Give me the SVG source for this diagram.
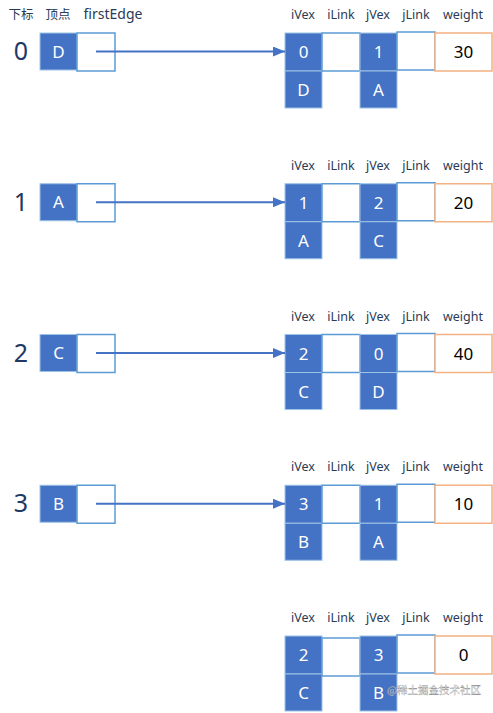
<svg xmlns="http://www.w3.org/2000/svg" width="493" height="713" viewBox="0 0 493 713">
<style>
.hd{font-family:"Noto Sans","Noto Sans CJK SC",sans-serif;font-size:12.5px;fill:#2b3a55;text-anchor:middle}
.idx{font-family:"Noto Sans",sans-serif;font-size:25px;fill:#1f3864;text-anchor:middle}
.b{fill:#4472c4;stroke:#9dc3e6;stroke-width:1}
.w{fill:#fff;stroke:#5b9bd5;stroke-width:1.5}
.o{fill:#fff;stroke:#f4b183;stroke-width:1.5}
.bt{font-family:"Noto Sans",sans-serif;font-size:17px;fill:#fff;text-anchor:middle}
.kt{font-family:"Noto Sans",sans-serif;font-size:17px;fill:#000;text-anchor:middle}
.ar{stroke:#4472c4;stroke-width:2;fill:none}
</style>
<defs>
<marker id="ah" markerWidth="12" markerHeight="10" refX="12" refY="5" orient="auto" markerUnits="userSpaceOnUse">
<path d="M0,0 L12,5 L0,10 Z" fill="#4472c4"/>
</marker>
</defs>
<rect width="493" height="713" fill="#fff"/>
<g id="headers-left">
<text class="hd" x="21" y="19">下标</text>
<text class="hd" x="58" y="19">顶点</text>
<text class="hd" x="113" y="19" style="font-size:14px">firstEdge</text>
</g>
<g id="vertex0" transform="translate(0,0)">
<text class="idx" x="21" y="60">0</text>
<rect class="b" x="40" y="33" width="37" height="37"/>
<text class="bt" x="58.5" y="57.5">D</text>
<rect class="w" x="77" y="33" width="38" height="38"/>
</g>
<g id="vertex1" transform="translate(0,150.75)">
<text class="idx" x="21" y="60">1</text>
<rect class="b" x="40" y="33" width="37" height="37"/>
<text class="bt" x="58.5" y="57.5">A</text>
<rect class="w" x="77" y="33" width="38" height="38"/>
</g>
<g id="vertex2" transform="translate(0,301.5)">
<text class="idx" x="21" y="60">2</text>
<rect class="b" x="40" y="33" width="37" height="37"/>
<text class="bt" x="58.5" y="57.5">C</text>
<rect class="w" x="77" y="33" width="38" height="38"/>
</g>
<g id="vertex3" transform="translate(0,452.25)">
<text class="idx" x="21" y="60">3</text>
<rect class="b" x="40" y="33" width="37" height="37"/>
<text class="bt" x="58.5" y="57.5">B</text>
<rect class="w" x="77" y="33" width="38" height="38"/>
</g>
<g id="edge0" transform="translate(0,0)">
<text class="hd" x="303" y="19">iVex</text><text class="hd" x="341" y="19">iLink</text><text class="hd" x="378" y="19">jVex</text><text class="hd" x="416" y="19">jLink</text><text class="hd" x="463" y="19">weight</text>
<rect class="b" x="285" y="33" width="37" height="38"/><rect class="b" x="285" y="71" width="37" height="37"/>
<rect class="w" x="322" y="33" width="38" height="38"/>
<rect class="b" x="360" y="33" width="37" height="38"/><rect class="b" x="360" y="71" width="37" height="37"/>
<rect class="w" x="397" y="32" width="38" height="38"/>
<rect class="o" x="435" y="33" width="57" height="38"/>
<text class="bt" x="303.5" y="58">0</text><text class="bt" x="303.5" y="96">D</text>
<text class="bt" x="378.5" y="58">1</text><text class="bt" x="378.5" y="96">A</text>
<text class="kt" x="463.5" y="58">30</text>
</g>
<g id="edge1" transform="translate(0,150.75)">
<text class="hd" x="303" y="19">iVex</text><text class="hd" x="341" y="19">iLink</text><text class="hd" x="378" y="19">jVex</text><text class="hd" x="416" y="19">jLink</text><text class="hd" x="463" y="19">weight</text>
<rect class="b" x="285" y="33" width="37" height="38"/><rect class="b" x="285" y="71" width="37" height="37"/>
<rect class="w" x="322" y="33" width="38" height="38"/>
<rect class="b" x="360" y="33" width="37" height="38"/><rect class="b" x="360" y="71" width="37" height="37"/>
<rect class="w" x="397" y="32" width="38" height="38"/>
<rect class="o" x="435" y="33" width="57" height="38"/>
<text class="bt" x="303.5" y="58">1</text><text class="bt" x="303.5" y="96">A</text>
<text class="bt" x="378.5" y="58">2</text><text class="bt" x="378.5" y="96">C</text>
<text class="kt" x="463.5" y="58">20</text>
</g>
<g id="edge2" transform="translate(0,301.5)">
<text class="hd" x="303" y="19">iVex</text><text class="hd" x="341" y="19">iLink</text><text class="hd" x="378" y="19">jVex</text><text class="hd" x="416" y="19">jLink</text><text class="hd" x="463" y="19">weight</text>
<rect class="b" x="285" y="33" width="37" height="38"/><rect class="b" x="285" y="71" width="37" height="37"/>
<rect class="w" x="322" y="33" width="38" height="38"/>
<rect class="b" x="360" y="33" width="37" height="38"/><rect class="b" x="360" y="71" width="37" height="37"/>
<rect class="w" x="397" y="32" width="38" height="38"/>
<rect class="o" x="435" y="33" width="57" height="38"/>
<text class="bt" x="303.5" y="58">2</text><text class="bt" x="303.5" y="96">C</text>
<text class="bt" x="378.5" y="58">0</text><text class="bt" x="378.5" y="96">D</text>
<text class="kt" x="463.5" y="58">40</text>
</g>
<g id="edge3" transform="translate(0,452.25)">
<text class="hd" x="303" y="19">iVex</text><text class="hd" x="341" y="19">iLink</text><text class="hd" x="378" y="19">jVex</text><text class="hd" x="416" y="19">jLink</text><text class="hd" x="463" y="19">weight</text>
<rect class="b" x="285" y="33" width="37" height="38"/><rect class="b" x="285" y="71" width="37" height="37"/>
<rect class="w" x="322" y="33" width="38" height="38"/>
<rect class="b" x="360" y="33" width="37" height="38"/><rect class="b" x="360" y="71" width="37" height="37"/>
<rect class="w" x="397" y="32" width="38" height="38"/>
<rect class="o" x="435" y="33" width="57" height="38"/>
<text class="bt" x="303.5" y="58">3</text><text class="bt" x="303.5" y="96">B</text>
<text class="bt" x="378.5" y="58">1</text><text class="bt" x="378.5" y="96">A</text>
<text class="kt" x="463.5" y="58">10</text>
</g>
<g id="edge4" transform="translate(0,603)">
<text class="hd" x="303" y="19">iVex</text><text class="hd" x="341" y="19">iLink</text><text class="hd" x="378" y="19">jVex</text><text class="hd" x="416" y="19">jLink</text><text class="hd" x="463" y="19">weight</text>
<rect class="b" x="285" y="33" width="37" height="38"/><rect class="b" x="285" y="71" width="37" height="37"/>
<rect class="w" x="322" y="35" width="38" height="38"/>
<rect class="b" x="360" y="33" width="37" height="38"/><rect class="b" x="360" y="71" width="37" height="37"/>
<rect class="w" x="397" y="32" width="38" height="38"/>
<rect class="o" x="435" y="33" width="57" height="38"/>
<text class="bt" x="303.5" y="58">2</text><text class="bt" x="303.5" y="96">C</text>
<text class="bt" x="378.5" y="58">3</text><text class="bt" x="378.5" y="96">B</text>
<text class="kt" x="463.5" y="58">0</text>
</g>
<g id="connectors">
<line class="ar" x1="96" y1="51.5" x2="285" y2="51.5" marker-end="url(#ah)"/>
<line class="ar" x1="96" y1="202.25" x2="285" y2="202.25" marker-end="url(#ah)"/>
<line class="ar" x1="96" y1="353" x2="285" y2="353" marker-end="url(#ah)"/>
<line class="ar" x1="96" y1="503.75" x2="285" y2="503.75" marker-end="url(#ah)"/>
</g>
<text x="387" y="694" style="font-family:'Noto Sans CJK SC',sans-serif;font-size:10.5px;fill:#ffffff;fill-opacity:0.75;stroke:#888;stroke-width:0.3">@稀土掘金技术社区</text>
</svg>
